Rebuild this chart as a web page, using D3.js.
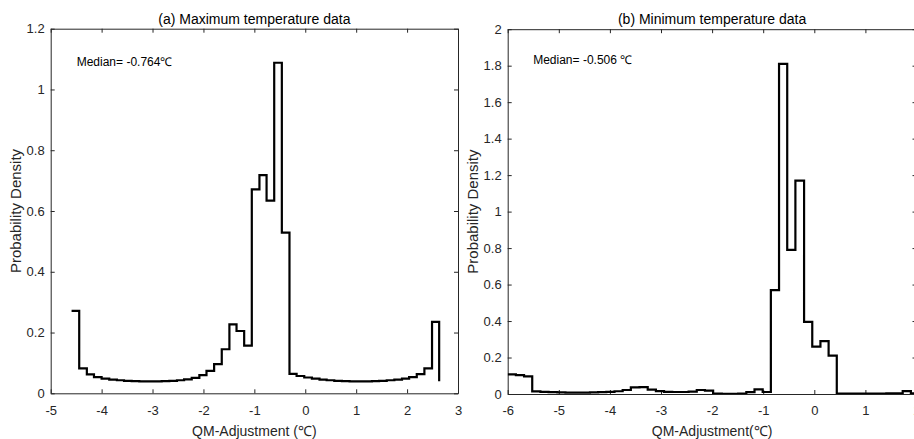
<!DOCTYPE html>
<html>
<head>
<meta charset="utf-8">
<script src="https://cdn.jsdelivr.net/npm/d3@7"></script>
<style>
  body { margin: 0; background: #fff; overflow: hidden; }
  svg text { font-family: "Liberation Sans", Arial, Helvetica, sans-serif; }
</style>
</head>
<body>
<script>
// (a) maximum temperature: stair points (x, density)
const maxX = [-4.59, -4.44, -4.29, -4.15, -4.00, -3.85, -3.70, -3.56, -3.41, -3.26,
  -3.11, -2.97, -2.82, -2.67, -2.52, -2.38, -2.23, -2.08, -1.94, -1.79,
  -1.64, -1.49, -1.35, -1.20, -1.05, -0.90, -0.76, -0.61, -0.46, -0.31,
  -0.17, -0.02, 0.13, 0.28, 0.42, 0.57, 0.72, 0.87, 1.01, 1.16,
  1.31, 1.45, 1.60, 1.75, 1.90, 2.04, 2.19, 2.34, 2.49, 2.63];
const maxDensity = [0.271, 0.082, 0.062, 0.053, 0.048, 0.045, 0.043, 0.041, 0.040, 0.039,
  0.039, 0.039, 0.040, 0.041, 0.043, 0.046, 0.051, 0.060, 0.074, 0.096,
  0.145, 0.227, 0.205, 0.157, 0.671, 0.718, 0.634, 1.088, 0.529, 0.064,
  0.057, 0.052, 0.048, 0.045, 0.043, 0.041, 0.040, 0.039, 0.039, 0.039,
  0.040, 0.041, 0.043, 0.045, 0.048, 0.053, 0.063, 0.082, 0.235, 0.040];

// (b) minimum temperature
const minX = [-6.00, -5.84, -5.68, -5.52, -5.36, -5.20, -5.03, -4.87, -4.71, -4.55,
  -4.39, -4.23, -4.07, -3.91, -3.75, -3.59, -3.42, -3.26, -3.10, -2.94,
  -2.78, -2.62, -2.46, -2.30, -2.14, -1.98, -1.81, -1.65, -1.49, -1.33,
  -1.17, -1.01, -0.85, -0.69, -0.53, -0.37, -0.20, -0.04, 0.12, 0.28,
  0.44, 0.60, 0.76, 0.92, 1.08, 1.25, 1.41, 1.57, 1.73, 1.89, 2.05];
const minDensity = [0.108, 0.103, 0.097, 0.014, 0.012, 0.010, 0.009, 0.008, 0.008, 0.008,
  0.009, 0.010, 0.012, 0.015, 0.022, 0.036, 0.038, 0.024, 0.016, 0.012,
  0.011, 0.011, 0.013, 0.022, 0.019, 0.002, 0.001, 0.001, 0.002, 0.010,
  0.025, 0.011, 0.570, 1.810, 0.790, 1.170, 0.395, 0.260, 0.290, 0.210,
  0.002, 0.002, 0.002, 0.002, 0.002, 0.002, 0.003, 0.004, 0.016, 0.004, 0.003];

const maxXTicks = [-5, -4, -3, -2, -1, 0, 1, 2, 3];
const maxYTicks = [0, 0.2, 0.4, 0.6, 0.8, 1, 1.2];
const minXTicks = [-6, -5, -4, -3, -2, -1, 0, 1, 2];
const minYTicks = [0, 0.2, 0.4, 0.6, 0.8, 1, 1.2, 1.4, 1.6, 1.8, 2];

const axisColor = "#262626";
const fmt = d => String(+d.toFixed(1));

const svg = d3.select("body").append("svg")
  .attr("width", 914)
  .attr("height", 439);

function drawPanel(p) {
  let x = d3.scaleLinear().domain(p.xDomain).range([p.left, p.right]);
  let y = d3.scaleLinear().domain(p.yDomain).range([p.bottom, p.top]);

  let g = svg.append("g");

  let clipId = "clip" + p.id;
  g.append("clipPath").attr("id", clipId)
    .append("rect")
    .attr("x", p.left).attr("y", p.top)
    .attr("width", p.right - p.left).attr("height", p.bottom - p.top);

  // bottom axis with labels, ticks inward
  g.append("g")
    .attr("transform", "translate(0," + p.bottom + ")")
    .call(d3.axisBottom(x).tickValues(p.xTicks).tickFormat(fmt)
      .tickSizeInner(-4).tickSizeOuter(0).tickPadding(12));
  // top axis, ticks only
  g.append("g")
    .attr("transform", "translate(0," + p.top + ")")
    .call(d3.axisTop(x).tickValues(p.xTicks).tickFormat("")
      .tickSizeInner(-4).tickSizeOuter(0));
  // left axis
  g.append("g")
    .attr("transform", "translate(" + p.left + ",0)")
    .call(d3.axisLeft(y).tickValues(p.yTicks).tickFormat(fmt)
      .tickSizeInner(-4).tickSizeOuter(0).tickPadding(6));
  // right axis
  g.append("g")
    .attr("transform", "translate(" + p.right + ",0)")
    .call(d3.axisRight(y).tickValues(p.yTicks).tickFormat("")
      .tickSizeInner(-4).tickSizeOuter(0));

  g.selectAll(".domain").attr("stroke", axisColor);
  g.selectAll(".tick line").attr("stroke", axisColor);
  g.selectAll(".tick text")
    .attr("fill", axisColor)
    .style("font-size", "13px");

  // histogram stairs
  let pts = p.xs.map((v, i) => [v, p.ys[i]]);
  let line = d3.line()
    .x(d => x(d[0]))
    .y(d => y(d[1]))
    .curve(d3.curveStepAfter);
  g.append("path")
    .datum(pts)
    .attr("clip-path", "url(#" + clipId + ")")
    .attr("d", line)
    .attr("fill", "none")
    .attr("stroke", "#000")
    .attr("stroke-width", 2.2)
    .attr("stroke-linejoin", "miter");

  // titles and labels
  g.append("text")
    .attr("x", (p.left + p.right) / 2)
    .attr("y", 24)
    .attr("text-anchor", "middle")
    .style("font-size", "14px")
    .attr("fill", "#000")
    .text(p.title);

  g.append("text")
    .attr("x", (p.left + p.right) / 2)
    .attr("y", 436)
    .attr("text-anchor", "middle")
    .style("font-size", "14px")
    .attr("fill", axisColor)
    .text(p.xLabel);

  g.append("text")
    .attr("transform", "translate(" + p.yLabelX + "," + (p.top + p.bottom) / 2 + ")rotate(-90)")
    .attr("text-anchor", "middle")
    .style("font-size", "15px")
    .attr("fill", axisColor)
    .text("Probability Density");

  g.append("text")
    .attr("x", p.left + p.medX)
    .attr("y", p.medY)
    .style("font-size", "12px")
    .attr("fill", "#000")
    .text(p.median);
}

drawPanel({
  id: "a", xs: maxX, ys: maxDensity,
  xDomain: [-5, 3], yDomain: [0, 1.2],
  xTicks: maxXTicks, yTicks: maxYTicks,
  left: 50.7, right: 458, top: 28.7, bottom: 393.3,
  title: "(a) Maximum temperature data",
  xLabel: "QM-Adjustment (\u2103)",
  yLabelX: 21,
  median: "Median= -0.764\u2103", medX: 26, medY: 66
});

drawPanel({
  id: "b", xs: minX, ys: minDensity,
  xDomain: [-6, 2], yDomain: [0, 2],
  xTicks: minXTicks, yTicks: minYTicks,
  left: 507.7, right: 916.5, top: 29.2, bottom: 394,
  title: "(b) Minimum temperature data",
  xLabel: "QM-Adjustment(\u2103)",
  yLabelX: 478,
  median: "Median= -0.506 \u2103", medX: 25.5, medY: 64
});
</script>
</body>
</html>
